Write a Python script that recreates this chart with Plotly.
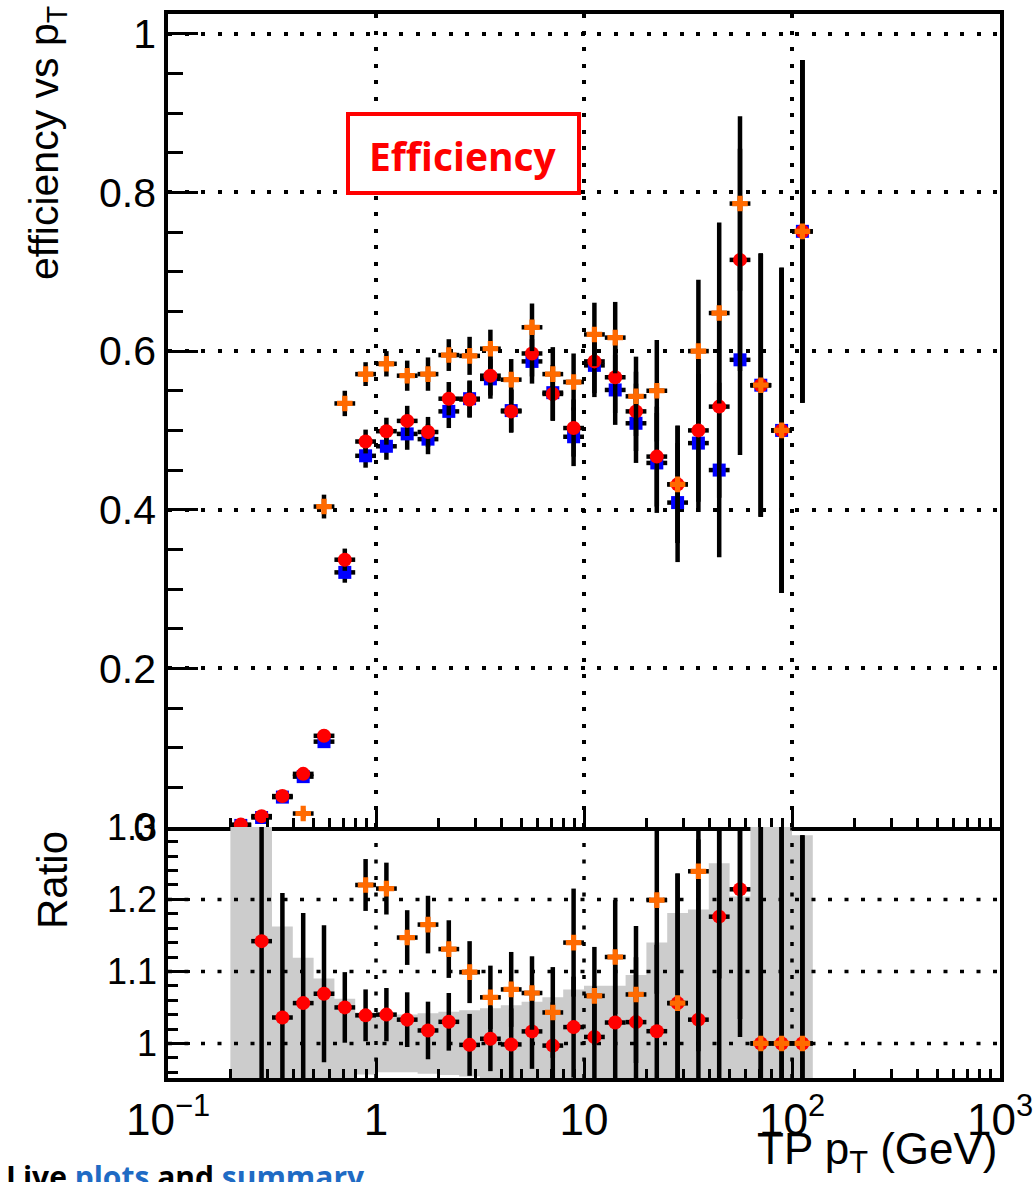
import math
import plotly.graph_objects as go

# ---------------- data ----------------
bin_edges = [0.1995, 0.2512, 0.3162, 0.3981, 0.5012, 0.6310, 0.7943, 1.0, 1.2589,
             1.5849, 1.9953, 2.5119, 3.1623, 3.9811, 5.0119, 6.3096, 7.9433, 10.0,
             12.589, 15.849, 19.953, 25.119, 31.623, 39.811, 50.119, 63.096, 79.433,
             100.0, 125.89]

eff_blue = [0.002, 0.012, 0.0377, 0.0635, 0.1076, 0.321, 0.468, 0.480, 0.4956, 0.489,
            0.524, 0.540, 0.565, 0.525, 0.587, 0.5476, 0.492, 0.582, 0.551, 0.509,
            0.459, 0.409, 0.484, 0.450, 0.589, 0.557, 0.500, 0.751]
err_blue = [0.002, 0.004, 0.005, 0.006, 0.008, 0.013, 0.015, 0.017, 0.020, 0.019,
            0.021, 0.023, 0.025, 0.027, 0.028, 0.035, 0.037, 0.040, 0.044, 0.050,
            0.063, 0.075, 0.087, 0.110, 0.120, 0.166, 0.205, 0.216]

eff_red = [0.003, 0.0137, 0.039, 0.067, 0.115, 0.337, 0.486, 0.499, 0.512, 0.498,
           0.540, 0.539, 0.569, 0.524, 0.597, 0.546, 0.503, 0.587, 0.567, 0.524,
           0.467, 0.432, 0.500, 0.530, 0.715, 0.557, 0.500, 0.751]
err_red = [0.002, 0.004, 0.005, 0.006, 0.008, 0.014, 0.015, 0.017, 0.019, 0.019,
           0.021, 0.023, 0.025, 0.027, 0.029, 0.034, 0.036, 0.040, 0.045, 0.050,
           0.063, 0.074, 0.090, 0.115, 0.140, 0.166, 0.205, 0.216]

eff_orange = [None, None, None, 0.017, 0.404, 0.534, 0.571, 0.584, 0.569, 0.571,
              0.595, 0.594, 0.603, 0.564, 0.630, 0.571, 0.561, 0.621, 0.617, 0.543,
              0.550, 0.432, 0.600, 0.648, 0.786, 0.557, 0.500, 0.751]
err_orange = [None, None, None, 0.005, 0.015, 0.016, 0.015, 0.016, 0.019, 0.021,
              0.020, 0.024, 0.024, 0.026, 0.030, 0.034, 0.036, 0.040, 0.045, 0.050,
              0.064, 0.074, 0.090, 0.114, 0.110, 0.166, 0.205, 0.216]

ratio_red = [None, 1.142, 1.036, 1.056, 1.069, 1.050, 1.039, 1.040, 1.033, 1.018,
             1.030, 0.998, 1.0065, 0.9986, 1.0167, 0.997, 1.0227, 1.009, 1.029, 1.0296,
             1.017, 1.056, 1.033, 1.176, 1.214, 1.0, 1.0, 1.0]
ratio_red_err = [None, 0.5, 0.173, 0.125, 0.095, 0.049, 0.036, 0.037, 0.038, 0.040,
                 0.040, 0.043, 0.045, 0.050, 0.052, 0.060, 0.070, 0.070, 0.080, 0.090,
                 0.120, 0.180, 0.250, 0.300, 0.205, 0.400, 0.400, 0.289]

ratio_orange = [None, None, None, None, None, None, 1.220, 1.215, 1.147, 1.165,
                1.131, 1.099, 1.064, 1.075, 1.070, 1.043, 1.140, 1.066, 1.120, 1.068,
                1.199, 1.056, 1.239, 1.440, 1.334, 1.0, 1.0, 1.0]
ratio_orange_err = [None, None, None, None, None, None, 0.036, 0.036, 0.038, 0.040,
                    0.040, 0.043, 0.044, 0.052, 0.051, 0.063, 0.075, 0.068, 0.079, 0.095,
                    0.130, 0.180, 0.250, 0.350, 0.300, 0.400, 0.400, 0.289]

band_err = [0.5, 0.5, 0.1625, 0.119, 0.090, 0.062, 0.043, 0.040, 0.040, 0.042,
            0.044, 0.046, 0.049, 0.053, 0.058, 0.064, 0.075, 0.080, 0.080, 0.095,
            0.140, 0.181, 0.186, 0.250, 0.204, 0.5, 0.5, 0.289]

x_tickvals = [0.1, 1, 10, 100, 1000]
x_ticktext = ["10<sup>\u22121</sup>", "1", "10", "10<sup>2</sup>", "10<sup>3</sup>"]
eff_tickvals = [0, 0.2, 0.4, 0.6, 0.8, 1.0]
ratio_tickvals = [1.0, 1.1, 1.2, 1.3]

# ---------------- derived bin geometry ----------------
lo = bin_edges[:-1]
hi = bin_edges[1:]
pt = [math.sqrt(a * b) for a, b in zip(lo, hi)]
ex_plus = [b - c for b, c in zip(hi, pt)]
ex_minus = [c - a for a, c in zip(lo, pt)]

BLACK = "#000000"
BLUE = "#0000ff"
RED = "#ff0000"
ORANGE = "#ff6a00"
GRID_DASH = "4px,12.5px"
FONT = "Liberation Sans, Arial, sans-serif"
BAR_T = 4.5


def errs(yerr):
    return dict(
        ey=dict(type="data", array=yerr, visible=True, color=BLACK, thickness=BAR_T, width=0),
        ex=dict(type="data", array=ex_plus, arrayminus=ex_minus, symmetric=False,
                visible=True, color=BLACK, thickness=BAR_T, width=0),
    )


fig = go.Figure()

# ---- top panel: efficiencies ----
for vals, e, col, sym, size in [
    (eff_blue, err_blue, BLUE, "square", 13),
    (eff_red, err_red, RED, "circle", 14),
    (eff_orange, err_orange, ORANGE, "cross", 13),
]:
    ee = errs(e)
    fig.add_trace(go.Scatter(
        x=pt, y=vals, mode="markers", xaxis="x", yaxis="y",
        marker=dict(color=col, symbol=sym, size=size, line=dict(width=0)),
        error_y=ee["ey"], error_x=ee["ex"], showlegend=False, hoverinfo="skip"))

# ---- ratio panel: grey uncertainty band ----
bx, by = [], []
for a, b, e in zip(lo, hi, band_err):
    bx += [a, b]
    by += [1 + e, 1 + e]
for a, b, e in reversed(list(zip(lo, hi, band_err))):
    bx += [b, a]
    by += [1 - e, 1 - e]
fig.add_trace(go.Scatter(x=bx, y=by, mode="lines", fill="toself", fillcolor="#cccccc",
                         line=dict(width=0, color="#cccccc"), xaxis="x2", yaxis="y2",
                         showlegend=False, hoverinfo="skip"))

# dotted grid of ratio panel drawn above the band
gx, gy = [], []
for v in [1.0, 1.1, 1.2]:
    gx += [x_tickvals[0], x_tickvals[-1], None]
    gy += [v, v, None]
for v in [1, 10, 100]:
    gx += [v, v, None]
    gy += [0.952, 1.3, None]
fig.add_trace(go.Scatter(x=gx, y=gy, mode="lines", xaxis="x2", yaxis="y2",
                         line=dict(color=BLACK, width=3.5, dash=GRID_DASH),
                         showlegend=False, hoverinfo="skip"))

for vals, e, col, sym, size in [
    (ratio_red, ratio_red_err, RED, "circle", 14),
    (ratio_orange, ratio_orange_err, ORANGE, "cross", 13),
]:
    ee = errs(e)
    fig.add_trace(go.Scatter(
        x=pt, y=vals, mode="markers", xaxis="x2", yaxis="y2",
        marker=dict(color=col, symbol=sym, size=size, line=dict(width=0)),
        error_y=ee["ey"], error_x=ee["ex"], showlegend=False, hoverinfo="skip"))

# ---------------- layout ----------------
W, H = 1036, 1182
L, R, T, B = 168, 36, 14, 104
plot_h = H - T - B
split = (1078 - 827) / plot_h


def px(x):
    return (x - L) / (W - L - R)


def py(y):
    return (H - B - y) / plot_h


minor_x = [m * 10 ** d for d in range(-1, 3) for m in range(2, 10)]

common_x = dict(type="log", range=[-1, 3], showline=True, linecolor=BLACK, linewidth=3.5,
                ticks="inside", ticklen=20, tickwidth=3, tickcolor=BLACK,
                tickvals=x_tickvals, ticktext=x_ticktext, automargin=False,
                minor=dict(tickmode="array", tickvals=minor_x, ticks="inside", ticklen=9,
                           tickwidth=3, tickcolor=BLACK, showgrid=False),
                zeroline=False)

fig.update_layout(
    width=W, height=H,
    margin=dict(l=L, r=R, t=T, b=B, autoexpand=False),
    paper_bgcolor="white", plot_bgcolor="white",
    showlegend=False,
    font=dict(family=FONT, color=BLACK),
    xaxis=dict(**common_x, mirror=True, anchor="y", domain=[0, 1], showticklabels=False,
               showgrid=True, gridcolor=BLACK, gridwidth=3.5, griddash=GRID_DASH),
    yaxis=dict(domain=[split, 1], range=[0, 1.025], tickvals=eff_tickvals,
               showline=True, linecolor=BLACK, linewidth=3.5, mirror=True,
               ticks="inside", ticklen=30, tickwidth=3, tickcolor=BLACK,
               minor=dict(dtick=0.05, ticks="inside", ticklen=15, tickwidth=3,
                          tickcolor=BLACK, showgrid=False),
               showgrid=True, gridcolor=BLACK, gridwidth=3.5, griddash=GRID_DASH,
               zeroline=False, tickfont=dict(size=41, family=FONT), anchor="x",
               automargin=False),
    xaxis2=dict(**common_x, mirror=False, anchor="y2", domain=[0, 1], showticklabels=True,
                showgrid=False, tickfont=dict(size=44, family=FONT)),
    yaxis2=dict(domain=[0, split], range=[0.952, 1.3005], tickvals=ratio_tickvals,
                showline=True, linecolor=BLACK, linewidth=3.5, mirror=True,
                ticks="inside", ticklen=22, tickwidth=3, tickcolor=BLACK,
                minor=dict(dtick=0.02, ticks="inside", ticklen=10, tickwidth=3,
                           tickcolor=BLACK, showgrid=False),
                showgrid=False, zeroline=False, tickfont=dict(size=36, family=FONT),
                anchor="x2", automargin=False),
)

# Efficiency label box
fig.add_shape(type="rect", xref="paper", yref="paper",
              x0=px(348), x1=px(579), y0=py(193), y1=py(114),
              line=dict(color=RED, width=4), fillcolor="white", layer="above")
fig.add_annotation(xref="paper", yref="paper", x=px(463), y=py(155),
                   text="<b>Efficiency</b>", showarrow=False,
                   font=dict(family="Open Sans, sans-serif", size=39, color=RED),
                   xanchor="center", yanchor="middle")

# axis titles
fig.add_annotation(xref="paper", yref="paper", x=px(47), y=py(4),
                   text="efficiency vs p<sub>T</sub>", textangle=-90, showarrow=False,
                   font=dict(family=FONT, size=41, color=BLACK),
                   xanchor="center", yanchor="top")
fig.add_annotation(xref="paper", yref="paper", x=px(52), y=py(880),
                   text="Ratio", textangle=-90, showarrow=False,
                   font=dict(family=FONT, size=42, color=BLACK),
                   xanchor="center", yanchor="middle")
fig.add_annotation(xref="paper", yref="paper", x=px(1000), y=py(1152),
                   text="TP p<sub>T</sub> (GeV)", showarrow=False,
                   font=dict(family=FONT, size=44, color=BLACK),
                   xanchor="right", yanchor="middle")

# footer text (partly cut off at the bottom edge)
fig.add_annotation(xref="paper", yref="paper", x=px(4), y=py(1154),
                   text=("<b>Live <span style='color:#1f6bc4'>plots</span> and "
                         "<span style='color:#1f6bc4'>summary</span></b>"),
                   showarrow=False, font=dict(family="Open Sans, sans-serif", size=30,
                                              color=BLACK),
                   xanchor="left", yanchor="top")

fig.write_html("out.html")
